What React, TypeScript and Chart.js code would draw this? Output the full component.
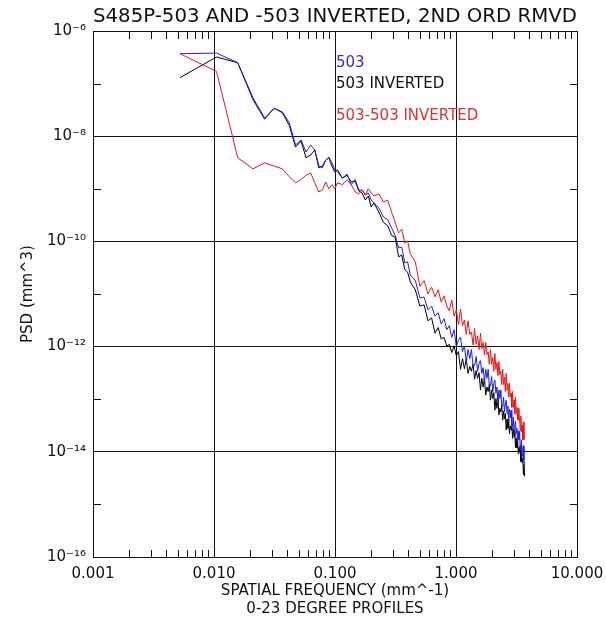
import { useEffect, useRef } from 'react';
import { Chart, registerables } from 'chart.js';

Chart.register(...registerables);

const FONT = "'DejaVu Sans', 'Liberation Sans', sans-serif";
const INK = '#111111';

const titleText = 'S485P-503 AND -503 INVERTED, 2ND ORD RMVD';
const xTitleLines = ['SPATIAL FREQUENCY (mm^-1)', '0-23 DEGREE PROFILES'];
const yTitleText = 'PSD (mm^3)';

const xTickValues = [0.001, 0.01, 0.1, 1, 10];
const xTickLabels = ['0.001', '0.010', '0.100', '1.000', '10.000'];
const yTickValues = [1e-16, 1e-14, 1e-12, 1e-10, 1e-8, 1e-6];
const yTickLabels = ['10⁻¹⁶', '10⁻¹⁴', '10⁻¹²', '10⁻¹⁰', '10⁻⁸', '10⁻⁶'];
const yMinorValues = [1e-15, 1e-13, 1e-11, 1e-9, 1e-7];
const xMinorValues = [
  0.002, 0.003, 0.004, 0.005, 0.006, 0.007, 0.008, 0.009,
  0.02, 0.03, 0.04, 0.05, 0.06, 0.07, 0.08, 0.09,
  0.2, 0.3, 0.4, 0.5, 0.6, 0.7, 0.8, 0.9,
  2, 3, 4, 5, 6, 7, 8, 9,
];

const seriesNames = ['503', '503 INVERTED', '503-503 INVERTED'];
const seriesColors = ['#1c1cf0', '#000000', '#f01414'];
const legendTextColors = ['#2f2fd0', '#111111', '#e03030'];

// spatial frequency (mm^-1)
const freq = [
  0.00524, 0.0105, 0.0157, 0.021, 0.0262, 0.0314, 0.0367, 0.0419, 0.0472, 0.0524,
  0.0576, 0.0629, 0.0681, 0.0734, 0.0786, 0.0838, 0.0891, 0.0943, 0.0996, 0.1048,
  0.1153, 0.1258, 0.1362, 0.1467, 0.1572, 0.1677, 0.1782, 0.1886, 0.1991, 0.2096,
  0.2306, 0.2515, 0.2725, 0.2934, 0.3144, 0.3354, 0.3563, 0.3773, 0.3982, 0.4192,
  0.4611, 0.503, 0.545, 0.5869, 0.6288, 0.6707, 0.7126, 0.7546, 0.7965, 0.8384, 0.8803,
  0.9222, 0.9642, 1.006, 1.048, 1.09, 1.132, 1.174, 1.216, 1.258, 1.3,
  1.341, 1.383, 1.425, 1.467, 1.509, 1.551, 1.593, 1.635, 1.677, 1.719,
  1.761, 1.803, 1.844, 1.886, 1.928, 1.97, 2.012, 2.054, 2.096, 2.138,
  2.18, 2.222, 2.264, 2.306, 2.348, 2.389, 2.431, 2.473, 2.515, 2.557,
  2.599, 2.641, 2.683, 2.725, 2.767, 2.809, 2.851, 2.892, 2.934, 2.976,
  3.018, 3.06, 3.102, 3.144, 3.186, 3.228, 3.27, 3.312, 3.354, 3.395,
  3.437, 3.479, 3.521, 3.563, 3.605, 3.647, 3.689,
];

// PSD (mm^3) — 503
const psd503 = [
  3.7e-7, 3.8e-7, 2.5e-7, 4.9e-8, 2.1e-8, 3.4e-8, 2.9e-8, 1.8e-8, 6.8e-9, 8.5e-9,
  5.0e-9, 6.8e-9, 5.5e-9, 2.8e-9, 2.5e-9, 3.5e-9, 4.0e-9, 3.1e-9, 2.3e-9, 2.1e-9,
  1.6e-9, 1.9e-9, 1.2e-9, 1.5e-9, 9.5e-10, 9.5e-10, 7.6e-10, 8.3e-10, 6.1e-10, 5.4e-10,
  4.3e-10, 2.9e-10, 2.6e-10, 1.8e-10, 1.3e-10, 7.5e-11, 7.8e-11, 3.9e-11, 4.1e-11, 2.3e-11,
  1.8e-11, 8.4e-12, 8.8e-12, 5.0e-12, 5.9e-12, 3.8e-12, 4.4e-12, 2.7e-12, 3.4e-12, 2.1e-12, 2.5e-12,
  1.5e-12, 2.1e-12, 1.0e-12, 1.33e-12, 1.5e-12, 8.0e-13, 1.03e-12, 5.2e-13, 8.8e-13, 5.9e-13,
  8.8e-13, 4.4e-13, 4.4e-13, 6.5e-13, 3.4e-13, 4.8e-13, 5.4e-13, 3.1e-13, 4.0e-13, 2.1e-13,
  3.7e-13, 2.5e-13, 3.7e-13, 1.8e-13, 1.8e-13, 2.7e-13, 1.4e-13, 2.0e-13, 2.3e-13, 1.3e-13,
  1.7e-13, 8.4e-14, 1.5e-13, 1.03e-13, 1.5e-13, 7.4e-14, 7.4e-14, 1.1e-13, 5.7e-14, 8.0e-14,
  9.6e-14, 5.4e-14, 7.4e-14, 3.8e-14, 6.5e-14, 4.4e-14, 6.2e-14, 3.1e-14, 3.1e-14, 4.6e-14,
  2.3e-14, 3.2e-14, 3.8e-14, 2.2e-14, 2.8e-14, 1.5e-14, 2.5e-14, 1.7e-14, 2.4e-14, 1.2e-14,
  1.1e-14, 1.7e-14, 8.4e-15, 1.1e-14, 1.3e-14, 7.0e-15, 5.4e-15,
];

// PSD (mm^3) — 503 INVERTED
const psd503Inverted = [
  1.3e-7, 3.2e-7, 2.5e-7, 5.3e-8, 2.2e-8, 3.4e-8, 2.8e-8, 1.6e-8, 6.2e-9, 8.1e-9,
  3.9e-9, 4.4e-9, 5.5e-9, 2.5e-9, 2.7e-9, 3.5e-9, 3.9e-9, 2.7e-9, 2.1e-9, 2.3e-9,
  1.6e-9, 1.8e-9, 1.35e-9, 1.4e-9, 9.1e-10, 8.3e-10, 6.1e-10, 7.3e-10, 4.5e-10, 5.4e-10,
  3.6e-10, 2.3e-10, 2.0e-10, 1.3e-10, 1.2e-10, 5.1e-11, 5.5e-11, 2.9e-11, 2.6e-11, 1.7e-11,
  1.2e-11, 5.9e-12, 6.2e-12, 3.1e-12, 3.5e-12, 1.8e-12, 2.3e-12, 1.4e-12, 1.5e-12, 1.03e-12, 1.1e-12,
  7.7e-13, 1.03e-12, 6.7e-13, 8.0e-13, 3.7e-13, 5.9e-13, 3.8e-13, 5.9e-13, 3.1e-13, 4.2e-13,
  3.4e-13, 4.6e-13, 2.4e-13, 3.5e-13, 2.5e-13, 3.2e-13, 1.5e-13, 2.5e-13, 1.7e-13, 2.5e-13,
  1.2e-13, 1.7e-13, 1.4e-13, 1.9e-13, 9.6e-14, 1.5e-13, 1.03e-13, 1.33e-13, 6.2e-14, 1.03e-13,
  6.7e-14, 1.03e-13, 5.0e-14, 6.7e-14, 5.7e-14, 7.7e-14, 4.0e-14, 5.9e-14, 4.2e-14, 5.4e-14,
  2.6e-14, 4.2e-14, 2.8e-14, 4.2e-14, 2.2e-14, 3.1e-14, 2.6e-14, 3.5e-14, 1.8e-14, 2.7e-14,
  1.9e-14, 2.5e-14, 1.2e-14, 1.8e-14, 1.2e-14, 1.7e-14, 9.2e-15, 1.22e-14, 1.0e-14, 1.3e-14,
  6.5e-15, 9.2e-15, 6.2e-15, 7.7e-15, 3.7e-15, 5.7e-15, 3.4e-15,
];

// PSD (mm^3) — 503-503 INVERTED
const psdDifference = [
  3.7e-7, 1.7e-7, 3.9e-9, 2.4e-9, 3.1e-9, 2.7e-9, 2.4e-9, 1.7e-9, 1.3e-9, 1.5e-9,
  1.8e-9, 2.0e-9, 1.3e-9, 8.7e-10, 9.5e-10, 1.35e-9, 1.0e-9, 1.2e-9, 1.0e-9, 1.3e-9,
  1.2e-9, 1.5e-9, 1.2e-9, 8.7e-10, 8.0e-10, 9.5e-10, 7.6e-10, 1.0e-9, 8.3e-10, 7.3e-10,
  8.0e-10, 5.6e-10, 6.1e-10, 3.6e-10, 2.3e-10, 1.45e-10, 1.7e-10, 9.3e-11, 1.02e-10, 5.8e-11,
  4.1e-11, 1.4e-11, 1.8e-11, 1.0e-11, 1.35e-11, 8.8e-12, 1.2e-11, 7.0e-12, 9.2e-12, 5.9e-12, 4.8e-12,
  7.7e-12, 3.8e-12, 5.0e-12, 2.6e-12, 5.2e-12, 2.5e-12, 3.2e-12, 1.7e-12, 3.1e-12, 1.7e-12,
  1.9e-12, 1.07e-12, 2.2e-12, 1.1e-12, 1.6e-12, 8.8e-13, 1.8e-12, 9.2e-13, 1.2e-12, 7.0e-13,
  1.2e-12, 7.0e-13, 8.0e-13, 4.6e-13, 8.8e-13, 4.6e-13, 6.2e-13, 3.4e-13, 7.4e-13, 3.7e-13,
  5.0e-13, 2.8e-13, 5.2e-13, 2.9e-13, 3.4e-13, 1.9e-13, 3.7e-13, 1.9e-13, 2.6e-13, 1.4e-13,
  3.1e-13, 1.5e-13, 2.0e-13, 1.1e-13, 2.0e-13, 1.1e-13, 1.3e-13, 7.0e-14, 1.4e-13, 7.0e-14,
  9.6e-14, 5.2e-14, 1.1e-13, 5.4e-14, 7.0e-14, 4.0e-14, 6.7e-14, 4.0e-14, 4.4e-14, 2.5e-14,
  4.8e-14, 2.4e-14, 3.2e-14, 1.7e-14, 3.7e-14, 1.7e-14, 2.0e-14,
];

const seriesValues = [psd503, psd503Inverted, psdDifference];
const seriesOrder = [1, 2, 0];

const frameTicksPlugin = {
  id: 'frameTicks',
  afterDraw(chart: any) {
    const ctx = chart.ctx;
    const area = chart.chartArea;
    const xs = chart.scales['x'];
    const ys = chart.scales['y'];
    const len = 7;
    const top = Math.round(area.top);
    const bottom = Math.round(area.bottom);
    const left = Math.round(area.left);
    const right = Math.round(area.right);
    ctx.save();
    ctx.fillStyle = INK;
    for (let i = 0; i < xMinorValues.length; i++) {
      const p = xs.getPixelForValue(xMinorValues[i]);
      if (!Number.isFinite(p)) continue;
      const px = Math.round(p);
      ctx.fillRect(px, top, 1, len + 1);
      ctx.fillRect(px, bottom - len, 1, len);
    }
    for (let i = 0; i < yMinorValues.length; i++) {
      const p = ys.getPixelForValue(yMinorValues[i]);
      if (!Number.isFinite(p)) continue;
      const py = Math.round(p);
      ctx.fillRect(left, py, len + 1, 1);
      ctx.fillRect(right - len, py, len, 1);
    }
    ctx.restore();
  },
};

const legendOffsets = [32, 53, 85];

const textLegendPlugin = {
  id: 'textLegend',
  afterDatasetsDraw(chart: any) {
    const { ctx, chartArea: a, scales } = chart;
    const x0 = scales.x.getPixelForValue(0.1) + 1;
    ctx.save();
    ctx.font = `15px ${FONT}`;
    ctx.textAlign = 'left';
    ctx.textBaseline = 'middle';
    seriesNames.forEach((name, i) => {
      ctx.fillStyle = legendTextColors[i];
      ctx.fillText(name, x0, a.top + legendOffsets[i]);
    });
    ctx.restore();
  },
};

export default function App() {
  const canvasRef = useRef<HTMLCanvasElement | null>(null);

  useEffect(() => {
    const canvas = canvasRef.current;
    if (!canvas) return;
    const datasets = seriesNames.map((name, i) => ({
      label: name,
      data: freq.map((f, j) => ({ x: f, y: seriesValues[i][j] })),
      borderColor: seriesColors[i],
      backgroundColor: seriesColors[i],
      borderWidth: 1,
      pointRadius: 0,
      tension: 0,
      fill: false,
      order: seriesOrder[i],
    }));

    const chart = new Chart(canvas, {
      type: 'line',
      data: { datasets },
      options: {
        responsive: false,
        animation: false,
        devicePixelRatio: 1,
        layout: { padding: { left: 0, right: 29, top: 0, bottom: 0 } },
        plugins: {
          legend: { display: false },
          tooltip: { enabled: false },
          title: {
            display: true,
            text: titleText,
            color: INK,
            fullSize: false,
            font: { family: FONT, size: 20, weight: 'normal', lineHeight: 1.2 },
            padding: { top: 5, bottom: 2 },
          },
        },
        scales: {
          x: {
            type: 'logarithmic',
            position: 'bottom',
            min: 0.001,
            max: 10,
            afterBuildTicks: (scale: any) => {
              scale.ticks = xTickValues.map((v) => ({ value: v }));
            },
            afterFit: (scale: any) => {
              scale.height = 61;
              scale.paddingLeft = 0;
              scale.paddingRight = 0;
            },
            ticks: {
              autoSkip: false,
              maxRotation: 0,
              minRotation: 0,
              padding: 8,
              color: INK,
              font: { family: FONT, size: 15 },
              callback: (_v: any, i: number) => xTickLabels[i],
            },
            grid: { color: INK, lineWidth: 1, drawTicks: false },
            border: { display: true, color: INK, width: 1 },
            title: {
              display: true,
              text: xTitleLines,
              color: INK,
              font: { family: FONT, size: 15, lineHeight: 1.2 },
              padding: { top: 0, bottom: 0 },
            },
          },
          y: {
            type: 'logarithmic',
            position: 'left',
            min: 1e-16,
            max: 1e-6,
            afterBuildTicks: (scale: any) => {
              scale.ticks = yTickValues.map((v) => ({ value: v }));
            },
            afterFit: (scale: any) => {
              scale.width = 93;
            },
            ticks: {
              autoSkip: false,
              padding: 7,
              color: INK,
              font: { family: FONT, size: 15 },
              callback: (_v: any, i: number) => yTickLabels[i],
            },
            grid: { color: INK, lineWidth: 1, drawTicks: false },
            border: { display: true, color: INK, width: 1 },
            title: {
              display: true,
              text: yTitleText,
              color: INK,
              font: { family: FONT, size: 15, lineHeight: 1.2 },
              padding: { top: 19, bottom: 0 },
            },
          },
        },
      } as any,
      plugins: [frameTicksPlugin, textLegendPlugin],
    });

    return () => {
      chart.destroy();
    };
  }, []);

  return (
    <div style={{ position: 'absolute', left: 0, top: 0, width: 606, height: 618, background: '#fff' }}>
      <canvas ref={canvasRef} width={606} height={618} style={{ display: 'block' }} />
    </div>
  );
}
